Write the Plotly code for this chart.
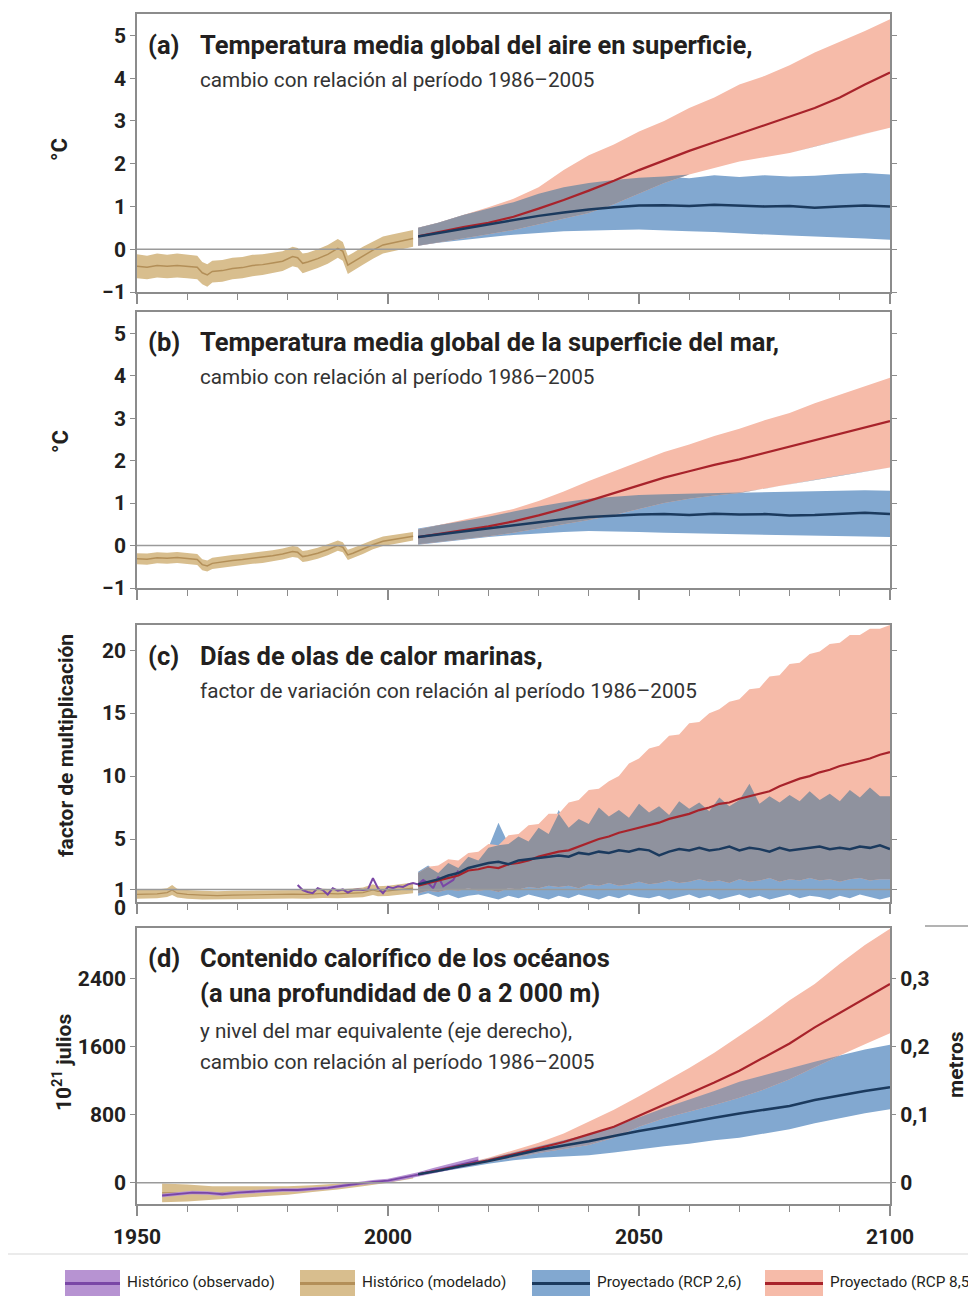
import numpy as np
import plotly.graph_objects as go

FONT = "Roboto, 'Liberation Sans', sans-serif"
W, H = 968, 1296
TXT = "#231f20"
AXC = "#8c8c8c"

# ---------------- colours ----------------
C_RED_BAND = "#f6bba9"
C_RED_LINE = "#a8232b"
C_BLUE_BAND = "#82a8d0"
C_BLUE_LINE = "#1b3a5e"
C_OVER = "#8e94a3"
C_TAN_BAND = "#d8be8e"
C_TAN_LINE = "#b38f58"
C_PUR_BAND = "#b793d2"
C_PUR_LINE = "#7a47a6"

# ---------------- data ----------------
proj5 = [2006] + list(range(2010, 2101, 5))
proj2 = list(range(2006, 2101, 2))

# (a) air temperature
hist_ab_years = [1950, 1952, 1954, 1956, 1958, 1960, 1962, 1963, 1964, 1965,
                 1967, 1969, 1971, 1973, 1975, 1977, 1979, 1981, 1982, 1983,
                 1984, 1986, 1988, 1990, 1991, 1992, 1993, 1995, 1997, 1999,
                 2001, 2003, 2005]
a_hist_mean = [-0.40, -0.42, -0.38, -0.40, -0.38, -0.40, -0.42, -0.55, -0.60, -0.52,
               -0.50, -0.45, -0.43, -0.38, -0.36, -0.32, -0.28, -0.17, -0.20, -0.33,
               -0.30, -0.22, -0.12, 0.02, -0.05, -0.37, -0.30, -0.15, -0.02, 0.10,
               0.15, 0.20, 0.25]
a_hist_hi = [-0.12, -0.15, -0.10, -0.13, -0.10, -0.13, -0.15, -0.30, -0.35, -0.27,
             -0.25, -0.20, -0.18, -0.13, -0.12, -0.08, -0.05, 0.06, 0.03, -0.10,
             -0.08, 0.00, 0.10, 0.24, 0.17, -0.15, -0.09, 0.06, 0.18, 0.30,
             0.35, 0.40, 0.45]
a_hist_lo = [-0.68, -0.70, -0.66, -0.68, -0.66, -0.68, -0.70, -0.82, -0.88, -0.78,
             -0.76, -0.70, -0.68, -0.63, -0.60, -0.56, -0.51, -0.40, -0.43, -0.56,
             -0.52, -0.44, -0.34, -0.20, -0.27, -0.58, -0.51, -0.36, -0.22, -0.10,
             -0.05, 0.00, 0.06]
a_rcp26_mean = [0.30, 0.38, 0.48, 0.58, 0.68, 0.78, 0.86, 0.93, 0.98, 1.02,
                1.03, 1.01, 1.04, 1.02, 1.00, 1.01, 0.97, 1.00, 1.02, 1.00]
a_rcp26_hi = [0.50, 0.62, 0.80, 0.95, 1.10, 1.30, 1.45, 1.55, 1.62, 1.67,
              1.70, 1.66, 1.73, 1.69, 1.73, 1.70, 1.72, 1.76, 1.78, 1.75]
a_rcp26_lo = [0.08, 0.15, 0.22, 0.28, 0.34, 0.38, 0.42, 0.44, 0.45, 0.46,
              0.44, 0.42, 0.40, 0.38, 0.35, 0.32, 0.30, 0.28, 0.25, 0.22]
a_rcp85_mean = [0.30, 0.40, 0.52, 0.62, 0.76, 0.95, 1.15, 1.37, 1.60, 1.85,
                2.08, 2.30, 2.50, 2.70, 2.90, 3.10, 3.30, 3.55, 3.85, 4.13]
a_rcp85_hi = [0.50, 0.62, 0.80, 0.98, 1.18, 1.45, 1.85, 2.20, 2.45, 2.75,
              3.00, 3.30, 3.55, 3.85, 4.05, 4.30, 4.60, 4.85, 5.10, 5.38]
a_rcp85_lo = [0.08, 0.15, 0.25, 0.35, 0.45, 0.58, 0.72, 0.85, 1.05, 1.30,
              1.55, 1.75, 1.90, 2.05, 2.15, 2.25, 2.40, 2.55, 2.70, 2.84]

# (b) sea surface temperature
b_hist_mean = [-0.31, -0.32, -0.29, -0.30, -0.28, -0.30, -0.33, -0.45, -0.48, -0.42,
               -0.38, -0.35, -0.33, -0.30, -0.28, -0.24, -0.20, -0.14, -0.16, -0.26,
               -0.24, -0.18, -0.10, 0.00, -0.04, -0.22, -0.18, -0.08, 0.02, 0.10,
               0.14, 0.18, 0.22]
b_hist_hi = [-0.18, -0.19, -0.16, -0.17, -0.15, -0.17, -0.20, -0.32, -0.35, -0.29,
             -0.25, -0.22, -0.20, -0.17, -0.15, -0.11, -0.07, -0.01, -0.03, -0.13,
             -0.11, -0.05, 0.03, 0.12, 0.08, -0.10, -0.06, 0.04, 0.13, 0.21,
             0.25, 0.29, 0.32]
b_hist_lo = [-0.44, -0.45, -0.42, -0.43, -0.41, -0.43, -0.46, -0.58, -0.61, -0.55,
             -0.51, -0.48, -0.46, -0.43, -0.41, -0.37, -0.33, -0.27, -0.29, -0.39,
             -0.37, -0.31, -0.23, -0.12, -0.16, -0.34, -0.30, -0.20, -0.09, -0.01,
             0.03, 0.07, 0.12]
b_rcp26_mean = [0.20, 0.26, 0.33, 0.40, 0.48, 0.56, 0.62, 0.67, 0.70, 0.73,
                0.74, 0.72, 0.75, 0.73, 0.74, 0.71, 0.72, 0.74, 0.77, 0.74]
b_rcp26_hi = [0.40, 0.48, 0.58, 0.68, 0.80, 0.92, 1.02, 1.10, 1.15, 1.19,
              1.21, 1.22, 1.24, 1.25, 1.26, 1.26, 1.27, 1.28, 1.30, 1.29]
b_rcp26_lo = [0.02, 0.08, 0.14, 0.20, 0.25, 0.29, 0.32, 0.34, 0.33, 0.32,
              0.30, 0.28, 0.27, 0.26, 0.25, 0.24, 0.23, 0.22, 0.21, 0.20]
b_rcp85_mean = [0.20, 0.27, 0.36, 0.45, 0.57, 0.71, 0.87, 1.05, 1.24, 1.42,
                1.60, 1.75, 1.90, 2.03, 2.18, 2.33, 2.47, 2.62, 2.78, 2.93]
b_rcp85_hi = [0.38, 0.48, 0.60, 0.72, 0.86, 1.05, 1.27, 1.52, 1.75, 1.98,
              2.20, 2.38, 2.58, 2.75, 2.95, 3.12, 3.35, 3.55, 3.75, 3.95]
b_rcp85_lo = [0.03, 0.09, 0.15, 0.22, 0.30, 0.40, 0.50, 0.60, 0.72, 0.86,
              1.00, 1.10, 1.18, 1.24, 1.34, 1.45, 1.55, 1.65, 1.75, 1.84]

# (c) marine heatwave days (multiplication factor)
c_hist_years = [1950, 1952, 1954, 1956, 1957, 1958, 1960, 1963, 1966, 1969,
                1972, 1975, 1978, 1981, 1984, 1987, 1990, 1993, 1995, 1997,
                1998, 2000, 2002, 2005]
c_hist_mean = [0.60, 0.62, 0.65, 0.75, 0.95, 0.70, 0.60, 0.55, 0.50, 0.55,
               0.58, 0.60, 0.62, 0.62, 0.60, 0.68, 0.65, 0.70, 0.75, 0.95,
               0.85, 0.88, 0.95, 1.10]
c_hist_hi = [0.95, 0.98, 1.00, 1.10, 1.35, 1.05, 0.95, 0.90, 0.85, 0.90,
             0.92, 0.95, 0.97, 0.98, 0.95, 1.05, 1.00, 1.08, 1.15, 1.40,
             1.25, 1.30, 1.38, 1.55]
c_hist_lo = [0.25, 0.27, 0.30, 0.40, 0.55, 0.35, 0.25, 0.20, 0.18, 0.20,
             0.24, 0.25, 0.27, 0.28, 0.25, 0.32, 0.30, 0.34, 0.38, 0.55,
             0.45, 0.48, 0.55, 0.70]
c_obs_years = list(range(1982, 2015))
c_obs = [1.35, 0.95, 0.80, 0.70, 1.10, 0.95, 0.60, 1.10, 0.90, 1.00,
         0.75, 0.95, 1.00, 0.95, 1.00, 1.90, 1.10, 0.70, 1.20, 1.10,
         1.25, 1.20, 1.40, 1.50, 1.40, 1.75, 1.50, 1.10, 2.00, 1.25,
         1.50, 1.75, 2.50]
c_rcp26_mean = [1.4, 1.6, 1.8, 2.1, 2.3, 2.7, 2.9, 3.1, 3.2, 3.0,
                3.3, 3.4, 3.5, 3.6, 3.7, 3.6, 3.9, 3.8, 4.0, 3.9,
                4.1, 4.0, 4.2, 4.1, 3.7, 4.0, 4.2, 4.1, 4.3, 4.1,
                4.2, 4.4, 4.1, 4.3, 4.2, 4.0, 4.3, 4.1, 4.2, 4.3,
                4.4, 4.2, 4.3, 4.2, 4.4, 4.3, 4.5, 4.2]
c_rcp26_hi = [2.4, 2.9, 2.3, 3.1, 2.7, 3.6, 3.3, 4.3, 6.3, 4.6,
              5.2, 4.8, 5.9, 5.4, 7.3, 5.9, 6.6, 6.2, 7.5, 6.8,
              7.3, 6.7, 7.8, 7.1, 7.6, 6.9, 8.0, 7.4, 7.9, 7.2,
              8.3, 7.6, 8.1, 9.4, 7.8, 8.4, 7.9, 8.5, 8.0, 8.8,
              8.1, 8.6, 8.0, 8.9, 8.3, 9.1, 8.4, 8.4]
c_rcp26_lo = [0.5, 0.7, 0.4, 0.6, 0.3, 0.5, 0.6, 0.4, 0.2, 0.5,
              0.3, 0.6, 0.4, 0.2, 0.5, 0.3, 0.6, 0.4, 0.2, 0.5,
              0.3, 0.6, 0.4, 0.3, 0.5, 0.2, 0.4, 0.6, 0.3, 0.5,
              0.2, 0.4, 0.6, 0.3, 0.5, 0.2, 0.4, 0.6, 0.3, 0.5,
              0.4, 0.2, 0.5, 0.3, 0.6, 0.4, 0.2, 0.4]
c_rcp85_mean = [1.3, 1.5, 1.7, 1.9, 2.1, 2.5, 2.6, 2.8, 2.7, 3.0,
                3.1, 3.3, 3.6, 3.8, 4.0, 4.1, 4.4, 4.7, 5.0, 5.2,
                5.5, 5.7, 5.9, 6.1, 6.3, 6.6, 6.8, 7.0, 7.3, 7.5,
                7.8, 7.9, 8.2, 8.4, 8.6, 8.8, 9.2, 9.5, 9.8, 10.0,
                10.3, 10.5, 10.8, 11.0, 11.2, 11.4, 11.7, 11.9]
c_rcp85_hi = [2.3, 2.8, 2.9, 3.4, 3.3, 3.9, 4.0, 4.6, 4.5, 5.3,
              5.4, 6.1, 6.2, 7.0, 7.0, 7.9, 8.1, 8.9, 9.0, 9.6,
              10.0, 11.0, 11.4, 12.2, 12.4, 13.2, 13.3, 14.2, 14.3, 15.0,
              15.3, 15.9, 16.1, 16.9, 17.0, 17.9, 18.0, 18.9, 19.0, 19.7,
              19.9, 20.5, 20.6, 21.2, 21.2, 21.7, 21.7, 22.0]
c_rcp85_lo = [0.7, 0.9, 0.8, 1.0, 0.9, 1.1, 0.9, 1.0, 0.8, 1.1,
              1.0, 1.2, 1.1, 1.3, 1.2, 1.3, 1.1, 1.4, 1.3, 1.5,
              1.3, 1.4, 1.6, 1.4, 1.5, 1.7, 1.5, 1.6, 1.8, 1.6,
              1.7, 1.5, 1.8, 1.6, 1.7, 1.9, 1.6, 1.8, 1.7, 1.9,
              1.7, 1.8, 1.6, 1.8, 1.9, 1.7, 1.8, 1.8]

# (d) ocean heat content (10^21 J)
d_hist_years = [1955, 1960, 1965, 1970, 1975, 1980, 1985, 1990, 1995, 2000, 2005]
d_hist_mean = [-120, -120, -120, -110, -100, -90, -70, -45, -15, 20, 70]
d_hist_hi = [-10, -20, -40, -40, -40, -40, -30, -10, 10, 40, 90]
d_hist_lo = [-230, -220, -200, -180, -160, -140, -110, -80, -40, 0, 50]
d_obs_years = [1955, 1958, 1961, 1964, 1967, 1970, 1973, 1976, 1979, 1982,
               1985, 1988, 1991, 1994, 1997, 2000, 2003, 2006, 2009, 2012,
               2015, 2018]
d_obs = [-150, -130, -115, -120, -135, -115, -105, -95, -85, -85,
         -70, -60, -35, -10, 10, 25, 60, 95, 140, 180,
         225, 265]
d_obs_hi = [-130, -110, -95, -100, -115, -95, -85, -75, -65, -65,
            -50, -40, -15, 10, 32, 48, 85, 125, 175, 220,
            268, 310]
d_obs_lo = [-170, -150, -135, -140, -155, -135, -125, -115, -105, -105,
            -90, -80, -55, -30, -12, 2, 35, 65, 105, 140,
            182, 220]
d_rcp26_mean = [100, 140, 200, 255, 320, 385, 440, 490, 550, 610,
                660, 715, 765, 815, 860, 905, 975, 1030, 1080, 1126]
d_rcp26_hi = [110, 155, 220, 285, 360, 430, 500, 570, 660, 770,
              880, 980, 1080, 1190, 1270, 1350, 1425, 1500, 1570, 1624]
d_rcp26_lo = [90, 125, 175, 225, 265, 295, 310, 325, 355, 390,
              430, 460, 500, 530, 580, 630, 700, 760, 820, 867]
d_rcp85_mean = [100, 145, 205, 265, 335, 410, 480, 570, 660, 790,
                920, 1050, 1180, 1320, 1480, 1640, 1830, 2000, 2170, 2340]
d_rcp85_hi = [110, 160, 225, 295, 380, 470, 580, 720, 860, 1020,
              1180, 1350, 1530, 1730, 1930, 2150, 2340, 2580, 2800, 2990]
d_rcp85_lo = [90, 130, 185, 240, 295, 350, 400, 445, 530, 660,
              760, 840, 915, 1000, 1100, 1220, 1360, 1500, 1630, 1760]

# ---------------- layout geometry (pixels) ----------------
PANELS = [(14, 292), (312, 588), (625, 902), (928, 1204)]
X0, X1 = 137, 890


def py(y):
    return 1 - y / H


def px(x):
    return x / W


fig = go.Figure()


def band(x, lo, hi, color, n):
    xs = list(x) + list(x)[::-1]
    ys = list(hi) + list(lo)[::-1]
    fig.add_trace(go.Scatter(x=xs, y=ys, fill="toself", fillcolor=color,
                             line=dict(width=0), mode="lines", hoverinfo="skip",
                             showlegend=False, xaxis=f"x{n}", yaxis=f"y{n}"))


def line(x, y, color, width, n):
    fig.add_trace(go.Scatter(x=list(x), y=list(y), mode="lines",
                             line=dict(color=color, width=width),
                             hoverinfo="skip", showlegend=False,
                             xaxis=f"x{n}", yaxis=f"y{n}"))


def projections(x, b_lo, b_hi, r_lo, r_hi, n, over=C_OVER):
    band(x, b_lo, b_hi, C_BLUE_BAND, n)
    band(x, r_lo, r_hi, C_RED_BAND, n)
    o_lo = np.maximum(np.array(b_lo), np.array(r_lo))
    o_hi = np.minimum(np.array(b_hi), np.array(r_hi))
    o_hi = np.maximum(o_hi, o_lo)
    band(x, o_lo, o_hi, over, n)


# panel a
projections(proj5, a_rcp26_lo, a_rcp26_hi, a_rcp85_lo, a_rcp85_hi, 1)
band(hist_ab_years, a_hist_lo, a_hist_hi, C_TAN_BAND, 1)
line(hist_ab_years, a_hist_mean, C_TAN_LINE, 1.5, 1)
line(proj5, a_rcp85_mean, C_RED_LINE, 2.2, 1)
line(proj5, a_rcp26_mean, C_BLUE_LINE, 2.5, 1)

# panel b
projections(proj5, b_rcp26_lo, b_rcp26_hi, b_rcp85_lo, b_rcp85_hi, 2)
band(hist_ab_years, b_hist_lo, b_hist_hi, C_TAN_BAND, 2)
line(hist_ab_years, b_hist_mean, C_TAN_LINE, 1.5, 2)
line(proj5, b_rcp85_mean, C_RED_LINE, 2.2, 2)
line(proj5, b_rcp26_mean, C_BLUE_LINE, 2.5, 2)

# panel c
projections(proj2, c_rcp26_lo, c_rcp26_hi, c_rcp85_lo, c_rcp85_hi, 3, over="#8f929e")
band(c_hist_years, c_hist_lo, c_hist_hi, C_TAN_BAND, 3)
line(c_hist_years, c_hist_mean, C_TAN_LINE, 1.2, 3)
line(c_obs_years, c_obs, C_PUR_LINE, 2, 3)
line(proj2, c_rcp85_mean, C_RED_LINE, 2.2, 3)
line(proj2, c_rcp26_mean, C_BLUE_LINE, 2.5, 3)

# panel d
projections(proj5, d_rcp26_lo, d_rcp26_hi, d_rcp85_lo, d_rcp85_hi, 4, over="#9a98a9")
band(d_hist_years, d_hist_lo, d_hist_hi, C_TAN_BAND, 4)
line(d_hist_years, d_hist_mean, C_TAN_LINE, 1.2, 4)
band(d_obs_years, d_obs_lo, d_obs_hi, C_PUR_BAND, 4)
line(d_obs_years, d_obs, C_PUR_LINE, 1.8, 4)
line(proj5, d_rcp85_mean, C_RED_LINE, 2.2, 4)
line(proj5, d_rcp26_mean, C_BLUE_LINE, 2.5, 4)

# ---------------- axes ----------------
tickfont = dict(family=FONT, size=21, color=TXT, weight="bold")
yranges = [[-1, 5.5], [-1, 5.5], [0, 22], [-250, 3000]]
ytickvals = [[-1, 0, 1, 2, 3, 4, 5], [-1, 0, 1, 2, 3, 4, 5],
             [0, 1, 5, 10, 15, 20], [0, 800, 1600, 2400]]
layout = {}
for i, (top, bot) in enumerate(PANELS):
    n = i + 1
    xa = "xaxis" if n == 1 else f"xaxis{n}"
    ya = "yaxis" if n == 1 else f"yaxis{n}"
    layout[xa] = dict(domain=[px(X0), px(X1)], anchor=f"y{n}", range=[1950, 2100],
                      tick0=1950, dtick=50, ticks="outside", ticklen=10, tickwidth=2,
                      tickcolor=AXC, showline=True, linecolor=AXC, linewidth=1.5,
                      mirror=True, showgrid=False, zeroline=False, automargin=False,
                      showticklabels=(n == 4), tickfont=tickfont,
                      minor=dict(dtick=10, tick0=1950, ticks="outside", ticklen=6,
                                 tickwidth=1.3, tickcolor=AXC, showgrid=False))
    layout[ya] = dict(domain=[py(bot), py(top)], anchor=f"x{n}", range=yranges[i],
                      tickvals=ytickvals[i], ticks="outside", ticklen=5, tickwidth=1.3,
                      tickcolor=AXC, showline=True, linecolor=AXC, linewidth=1.5,
                      mirror=("ticks" if n < 4 else True), showgrid=False,
                      zeroline=False, automargin=False, tickfont=tickfont)
    fig.add_shape(type="line", xref=f"x{n}", yref=f"y{n}", x0=1950, x1=2100,
                  y0=(1 if n == 3 else 0), y1=(1 if n == 3 else 0),
                  line=dict(color="#9a9a9a", width=1.5), layer="above")

# panel (c): the "0" label sits just below the axis (drawn as annotation below)
layout["yaxis3"]["tickvals"] = [1, 5, 10, 15, 20]
layout["xaxis4"]["tickvals"] = [1950, 2000, 2050, 2100]
layout["xaxis4"]["ticklabelstandoff"] = 3
layout["yaxis5"] = dict(overlaying="y4", side="right", anchor="x4",
                        range=[-250 / 8000, 3000 / 8000],
                        tickvals=[0, 0.1, 0.2, 0.3], ticktext=["0", "0,1", "0,2", "0,3"],
                        ticks="outside", ticklen=5, tickwidth=1.3, tickcolor=AXC,
                        showline=False, showgrid=False, zeroline=False,
                        automargin=False, tickfont=tickfont)
# invisible trace so the right axis is drawn
fig.add_trace(go.Scatter(x=[2000], y=[0], mode="markers", marker=dict(opacity=0),
                         hoverinfo="skip", showlegend=False, xaxis="x4", yaxis="y5"))

# ---------------- annotations ----------------
ann = []


def text(x, y, s, size, bold=False, color=TXT, angle=0, xanchor="left"):
    ann.append(dict(x=px(x), y=py(y), xref="paper", yref="paper", text=s,
                    showarrow=False, xanchor=xanchor, yanchor="middle",
                    textangle=angle,
                    font=dict(family=FONT, size=size, color=color,
                              weight=("bold" if bold else "normal"))))


TS, SS = 25.5, 20.7
text(146, 45, "(a)", TS, True)
text(198, 45, "Temperatura media global del aire en superficie,", TS, True)
text(198, 80, "cambio con relación al período 1986–2005", SS, color="#333333")
text(146, 342, "(b)", TS, True)
text(198, 342, "Temperatura media global de la superficie del mar,", TS, True)
text(198, 377, "cambio con relación al período 1986–2005", SS, color="#333333")
text(146, 656, "(c)", TS, True)
text(198, 656, "Días de olas de calor marinas,", TS, True)
text(198, 691, "factor de variación con relación al período 1986–2005", SS, color="#333333")
text(146, 958, "(d)", TS, True)
text(198, 958, "Contenido calorífico de los océanos", TS, True)
text(198, 993, "(a una profundidad de 0 a 2 000 m)", TS, True)
text(198, 1031, "y nivel del mar equivalente (eje derecho),", SS, color="#333333")
text(198, 1062, "cambio con relación al período 1986–2005", SS, color="#333333")

# "0" tick label of panel (c), just below the neighbouring "1"
ann.append(dict(x=px(128), y=py(908), xref="paper", yref="paper", text="0",
                showarrow=False, xanchor="right", yanchor="middle",
                font=dict(family=FONT, size=21, color=TXT, weight="bold")))

text(60, 150, "°C", 22, True, angle=-90, xanchor="center")
text(60, 442, "°C", 22, True, angle=-90, xanchor="center")
text(66, 746, "factor de multiplicación", 21, True, angle=-90, xanchor="center")
text(62, 1062, "10<sup>21</sup> julios", 21, True, angle=-90, xanchor="center")
text(956, 1065, "metros", 21, True, angle=-90, xanchor="center")

# legend
legend_items = [
    (65, 120, C_PUR_BAND, C_PUR_LINE, "Histórico (observado)"),
    (300, 355, C_TAN_BAND, C_TAN_LINE, "Histórico (modelado)"),
    (532, 590, C_BLUE_BAND, C_BLUE_LINE, "Proyectado (RCP 2,6)"),
    (765, 823, C_RED_BAND, C_RED_LINE, "Proyectado (RCP 8,5)"),
]
for xa_, xb_, bc, lc, lab in legend_items:
    fig.add_shape(type="rect", xref="paper", yref="paper", x0=px(xa_), x1=px(xb_),
                  y0=py(1297), y1=py(1270), fillcolor=bc, line=dict(width=0))
    fig.add_shape(type="line", xref="paper", yref="paper", x0=px(xa_), x1=px(xb_),
                  y0=py(1283.5), y1=py(1283.5), line=dict(color=lc, width=3))
    text(xb_ + 5, 1282, lab, 15.3)

# separator line above legend and small rule at top right
fig.add_shape(type="line", xref="paper", yref="paper", x0=px(8), x1=1,
              y0=py(1254), y1=py(1254), line=dict(color="#e4e4e4", width=1.5))
fig.add_shape(type="line", xref="paper", yref="paper", x0=px(925), x1=1,
              y0=py(926), y1=py(926), line=dict(color="#9a9a9a", width=1.5))

fig.update_layout(width=W, height=H, autosize=False,
                  margin=dict(l=0, r=0, t=0, b=0, autoexpand=False),
                  paper_bgcolor="white", plot_bgcolor="white",
                  showlegend=False, annotations=ann, **layout)

fig.write_html("out.html")
